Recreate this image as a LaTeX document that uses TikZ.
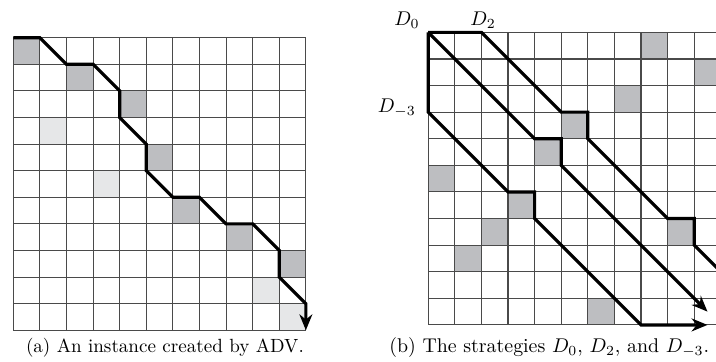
\documentclass[tikz,border=0pt]{standalone}
\usepackage{amsmath,amssymb}
\usepackage{xcolor}
\usepackage{tikz}
\usetikzlibrary{arrows.meta, positioning, calc}
\definecolor{GridGrey}{HTML}{4A4A4A}
\definecolor{CellDark}{HTML}{BDBEC1}
\definecolor{CellLight}{HTML}{E6E7E8}

\begin{document}
\begin{tikzpicture}[x=0.47cm, y=-0.47cm, >={Stealth[length=8pt, width=6.5pt]}]
    \tikzstyle{gridline} = [draw=GridGrey, line width=0.55pt]
    \tikzstyle{darkcell} = [fill=CellDark]
    \tikzstyle{lightcell} = [fill=CellLight]
    \tikzstyle{strategy} = [draw=black, line width=1.6pt, line join=miter]
    \tikzstyle{caption} = [inner sep=0pt]

    \useasboundingbox (-0.5,-1.417) rectangle (26.42,12.19);
    \clip (-0.5,-1.417) rectangle (26.42,12.19);

    \begin{scope}
        \foreach \c/\r in {0/0, 2/1, 4/2, 5/4, 6/6, 8/7, 10/8}
            \path [darkcell] (\c,\r) rectangle ++(1,1);
        \foreach \c/\r in {1/3, 3/5, 9/9, 10/10}
            \path [lightcell] (\c,\r) rectangle ++(1,1);
        \foreach \i in {0,...,11} {
            \draw [gridline] (\i,0) -- (\i,11);
            \draw [gridline] (0,\i) -- (11,\i);
        }
        \draw [strategy, ->] (0,0) -- (1,0) -- (2,1) -- (3,1) -- (4,2) -- (4,3) -- (5,4) -- (5,5)
            -- (6,6) -- (7,6) -- (8,7) -- (9,7) -- (10,8) -- (10,9) -- (11,10) -- (11,11);
        \node [caption, scale=0.96] (capA) at (5.7,11.66) {(a) An instance created by ADV.};
    \end{scope}

    \begin{scope}[shift={(15.6,-0.2)}]
        \foreach \c/\r in {8/0, 10/1, 7/2, 5/3, 4/4, 0/5, 3/6, 9/7, 2/7, 1/8, 6/10}
            \path [darkcell] (\c,\r) rectangle ++(1,1);
        \foreach \i in {0,...,11} {
            \draw [gridline] (\i,0) -- (\i,11);
            \draw [gridline] (0,\i) -- (11,\i);
        }
        \draw [strategy, ->] (0,0) -- (4,4) -- (5,4) -- (5,5) -- (10.5,10.5);
        \draw [strategy] (0,0) -- (2,0) -- (5,3) -- (6,3) -- (6,4) -- (9,7) -- (10,7) -- (10,8) -- (11.5,9.5);
        \draw [strategy, ->] (0,0) -- (0,3) -- (3,6) -- (4,6) -- (4,7) -- (8,11) -- (10.5,11);
        \node (d0) at (-0.8,-0.46) {$D_0$};
        \node (d2) at (2.06,-0.46) {$D_2$};
        \node (dm3) at (-1.18,2.85) {$D_{-3}$};
        \node [caption] (capB) at (4.55,11.86) {(b) The strategies $D_0$, $D_2$, and $D_{-3}$.};
    \end{scope}
\end{tikzpicture}
\end{document}
